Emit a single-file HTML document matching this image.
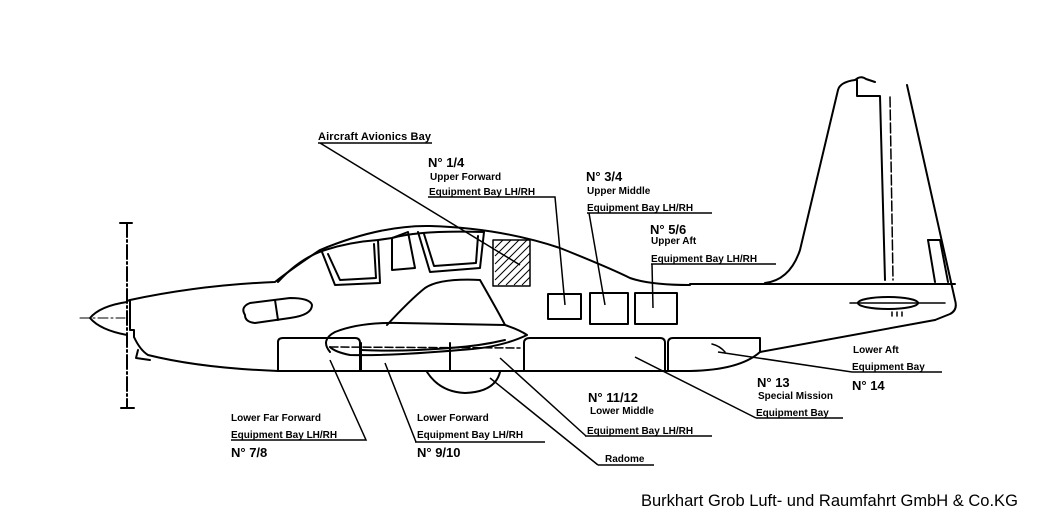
<!DOCTYPE html>
<html><head><meta charset="utf-8"><style>
html,body{margin:0;padding:0;background:#fff}
svg{display:block}
text{font-family:"Liberation Sans",Arial,sans-serif;fill:#000}
.s{font-size:10px;font-weight:bold}
.n{font-size:13px;font-weight:bold}
</style></head><body>
<svg width="1039" height="513" viewBox="0 0 1039 513" xmlns="http://www.w3.org/2000/svg">
<g fill="none" stroke="#000" stroke-width="2" stroke-linejoin="round" stroke-linecap="round">
<line x1="120" y1="223" x2="132" y2="223"/>
<line x1="127" y1="223" x2="127" y2="408" stroke-dasharray="14,3,2,3"/>
<line x1="121" y1="408" x2="134" y2="408"/>
<line x1="80" y1="318" x2="125" y2="318" stroke-dasharray="10,3,2,3" stroke-width="1"/>
<path d="M127 302 Q100 306 90 318 Q100 330 127 335"/>
<path d="M127 301 L130 300 L130 330 L134 330 L134 337"/>
<path d="M130 300 Q200 285 275 282 Q290 270 320 250 Q380 225 430 226 Q500 228 560 248 Q610 268 630 278 Q650 285 690 285"/>
<path d="M690 284 L955 284"/>
<path d="M765 283 Q790 280 800 250 L838 90 Q840 82 855 80 L858 78 Q862 76 866 79 L875 82"/>
<path d="M857 80 L857 96 L880 96 L885 280"/>
<path d="M890 97 L893 280" stroke-dasharray="10,3" stroke-width="1.5"/>
<path d="M907 85 L955 300 Q958 310 950 314 L935 320"/>
<path d="M928 240 L940 240 L948 282"/>
<path d="M928 240 L935 282"/>
<ellipse cx="888" cy="303" rx="30" ry="6"/>
<line x1="850" y1="303" x2="945" y2="303" stroke-width="1.5"/>
<path d="M892 312 v4 M897 312 v4 M902 312 v4" stroke-width="1.5"/>
<path d="M134 337 Q140 350 148 355 Q200 368 278 371"/>
<path d="M138 350 L136 358 L150 360"/>
<path d="M278 371 L690 371 Q740 370 760 352 L935 320"/>
<path d="M278 371 L278 342 Q278 338 283 338 L355 338 Q360 338 360 343 L360 371"/>
<path d="M361 371 L361 343 M450 343 L450 371"/>
<path d="M361 350 Q400 352 450 348 Q480 346 505 340"/>
<path d="M524 371 L524 343 Q524 338 530 338 L660 338 Q665 338 665 343 L665 371"/>
<path d="M668 371 L668 343 Q668 338 673 338 L760 338 L760 352"/>
<path d="M712 344 Q720 346 725 352" stroke-width="1.5"/>
<path d="M330 352 Q320 340 335 332 Q360 322 400 323 L505 325 Q520 330 527 335 Q500 348 460 350 Q390 356 350 355 Q335 352 330 347"/>
<path d="M330 347 L520 348" stroke-dasharray="8,3" stroke-width="1.5"/>
<path d="M387 325 Q410 300 425 288 Q440 278 480 280 Q500 315 505 325"/>
<path d="M427 372 Q440 392 465 393 Q495 392 500 372"/>
<path d="M278 282 Q300 258 325 250"/>
<path d="M322 252 L335 285 L380 283 L378 240"/>
<path d="M328 254 L340 280 L376 278 L374 244"/>
<path d="M392 238 L392 270 L415 268 L408 232 Z"/>
<path d="M418 232 L430 272 L480 268 L484 232"/>
<path d="M424 234 L434 266 L476 263 L478 236"/>
<path d="M325 250 Q350 242 378 240 L392 238 Q420 230 484 232"/>
<path d="M245 315 Q240 307 250 303 L290 298 Q310 298 312 305 Q312 315 290 318 L255 323 Q245 322 245 315"/>
<path d="M275 300 L278 320"/>
<rect x="493" y="240" width="37" height="46" stroke-width="1.5"/>
<rect x="548" y="294" width="33" height="25"/>
<rect x="590" y="293" width="38" height="31"/>
<rect x="635" y="293" width="42" height="31"/>
</g>
<g stroke="#000" stroke-width="1">
<path d="M495 248 L503 240 M495 256 L511 240 M495 264 L519 240 M495 272 L527 240 M495 280 L530 245 M498 285 L530 253 M506 285 L530 261 M514 285 L530 269 M522 285 L530 277"/>
</g>
<g fill="none" stroke="#000" stroke-width="1.5">
<path d="M318 143 L432 143 M320 143 L520 265"/>
<path d="M428 197 L555 197 L565 305"/>
<path d="M587 213 L712 213 M589 213 L605 305"/>
<path d="M651 264 L776 264 M652 264 L653 308"/>
<path d="M231 440 L366 440 L330 360"/>
<path d="M415 442 L545 442 M416 442 L385 363"/>
<path d="M598 465 L654 465 M598 465 L490 378"/>
<path d="M585 436 L712 436 M586 436 L500 358"/>
<path d="M756 418 L843 418 M756 418 L635 357"/>
<path d="M852 372 L942 372 M852 372 L718 352"/>
</g>
<text x="318" y="140" style="font-size:11px;font-weight:bold" textLength="113">Aircraft Avionics Bay</text>
<text x="428" y="167" class="n">N° 1/4</text>
<text x="430" y="180" class="s">Upper Forward</text>
<text x="429" y="195" class="s">Equipment Bay LH/RH</text>
<text x="586" y="181" class="n">N° 3/4</text>
<text x="587" y="194" class="s">Upper Middle</text>
<text x="587" y="211" class="s">Equipment Bay LH/RH</text>
<text x="650" y="234" class="n">N° 5/6</text>
<text x="651" y="244" class="s">Upper Aft</text>
<text x="651" y="262" class="s">Equipment Bay LH/RH</text>
<text x="231" y="421" class="s">Lower Far Forward</text>
<text x="231" y="438" class="s">Equipment Bay LH/RH</text>
<text x="231" y="457" class="n">N° 7/8</text>
<text x="417" y="421" class="s">Lower Forward</text>
<text x="417" y="438" class="s">Equipment Bay LH/RH</text>
<text x="417" y="457" class="n">N° 9/10</text>
<text x="588" y="402" class="n">N° 11/12</text>
<text x="590" y="414" class="s">Lower Middle</text>
<text x="587" y="434" class="s">Equipment Bay LH/RH</text>
<text x="605" y="462" class="s">Radome</text>
<text x="757" y="387" class="n">N° 13</text>
<text x="758" y="399" class="s">Special Mission</text>
<text x="756" y="416" class="s">Equipment Bay</text>
<text x="853" y="353" class="s">Lower Aft</text>
<text x="852" y="370" class="s">Equipment Bay</text>
<text x="852" y="390" class="n">N° 14</text>
<text x="641" y="506" style="font-size:16.5px">Burkhart Grob Luft- und Raumfahrt GmbH &amp; Co.KG</text>
</svg>
</body></html>
